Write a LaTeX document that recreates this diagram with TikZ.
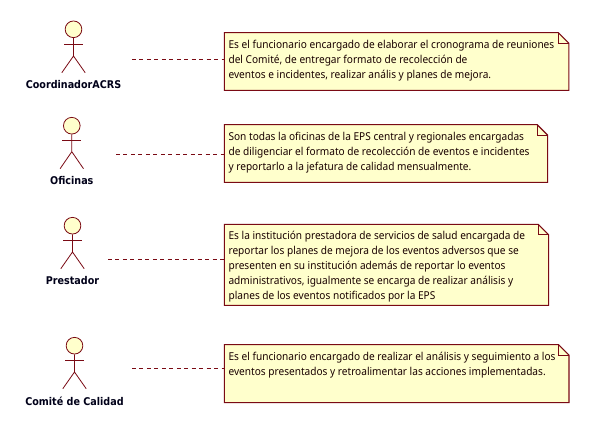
\documentclass[tikz,border=0pt]{standalone}
\usepackage{fontspec}
\setmainfont[FakeStretch=0.93]{Noto Sans}
\newfontfamily\labfont[FakeStretch=0.9]{DejaVu Sans}
\usetikzlibrary{backgrounds,calc}
\definecolor{umlline}{HTML}{7A0A14}
\definecolor{umlfill}{HTML}{FFFFCC}
\tikzset{
  x=0.75pt,y=-0.75pt,
  head/.style={circle,draw=umlline,fill=umlfill,line width=0.6pt,minimum size=12.5pt,inner sep=0pt},
  stick/.style={draw=umlline,line width=0.6pt},
  actorlabel/.style={anchor=center,inner sep=0pt,font=\labfont\bfseries\fontsize{8}{10}\selectfont,text=black!90!blue},
  notetext/.style={anchor=north west,inner xsep=3pt,inner ysep=5.3pt,align=left,font=\fontsize{8.15}{11.25}\selectfont,text=black!90!red},
  noteshape/.style={draw=umlline,fill=umlfill,line width=0.8pt},
  link/.style={draw=umlline,line width=0.6pt,dash pattern=on 3pt off 2.6pt},
}
\newcommand{\umlactor}[9]{% name, cx, head y, arm y, hip y, foot y, half-span, label, label y
  \node[head] (#1) at (#2,#3) {};
  \draw[stick] (#1.south) -- (#2,#5) -- ($(#2,#6)+(-#7,0)$) (#2,#5) -- ($(#2,#6)+(#7,0)$);
  \draw[stick] ($(#2,#4)+(-9.5,0)$) -- ($(#2,#4)+(9.5,0)$);
  \node[actorlabel] (#1label) at (#2,#9) {#8};
}
\newcommand{\umlnote}[3]{% node, width, height
  \begin{scope}[on background layer]
    \path[noteshape] (#1.north west) -- ($(#1.north west)+(#2-10.5,0)$) -- ($(#1.north west)+(#2,10.5)$) -- ($(#1.north west)+(#2,#3)$) -- ($(#1.north west)+(0,#3)$) -- cycle;
    \path[noteshape,fill=none] ($(#1.north west)+(#2-10.5,0)$) -- ($(#1.north west)+(#2-10.5,10.5)$) -- ($(#1.north west)+(#2,10.5)$);
  \end{scope}
}
\begin{document}
\begin{tikzpicture}
\useasboundingbox (0,0) rectangle (590,433);
\begin{scope}[on background layer]
\fill[white] (0,0) rectangle (590,433);
\end{scope}
\umlactor{a1}{73.5}{29.3}{44}{56}{72.7}{11.7}{CoordinadorACRS}{85}
\umlactor{a2}{71.8}{125.7}{140.3}{151.7}{168.7}{11.7}{Oficinas}{181}
\umlactor{a3}{72.5}{225.7}{240}{252}{268.7}{11.7}{Prestador}{281}
\umlactor{a4}{74.5}{345.7}{360.3}{372}{388.7}{11.7}{Comité de Calidad}{401}

\node[notetext] (n1) at (224.3,32.7)
 {Es el funcionario encargado de elaborar el cronograma de reuniones\\del Comité, de entregar formato de recolección de\\eventos e incidentes, realizar anális y planes de mejora.};
\node[notetext] (n2) at (224.3,124.7)
 {Son todas la oficinas de la EPS central y regionales encargadas\\de diligenciar el formato de recolección de eventos e incidentes\\y reportarlo a la jefatura de calidad mensualmente.};
\node[notetext] (n3) at (224.3,224.3)
 {Es la institución prestadora de servicios de salud encargada de\\reportar los planes de mejora de los eventos adversos que se\\presenten en su institución además de reportar lo eventos\\administrativos, igualmente se encarga de realizar análisis y\\planes de los eventos notificados por la EPS};
\node[notetext] (n4) at (224.3,344.7)
 {Es el funcionario encargado de realizar el análisis y seguimiento a los\\eventos presentados y retroalimentar las acciones implementadas.};
\umlnote{n1}{344.5}{57.6}
\umlnote{n2}{323.4}{57.6}
\umlnote{n3}{324.4}{81}
\umlnote{n4}{344.7}{58}

\coordinate (c1) at (132,59.5);
\coordinate (c2) at (116,154.3);
\coordinate (c3) at (108,259.3);
\coordinate (c4) at (132,368.3);
\draw[link] (c1) -- (c1 -| n1.west);
\draw[link] (c2) -- (c2 -| n2.west);
\draw[link] (c3) -- (c3 -| n3.west);
\draw[link] (c4) -- (c4 -| n4.west);
\end{tikzpicture}
\end{document}
